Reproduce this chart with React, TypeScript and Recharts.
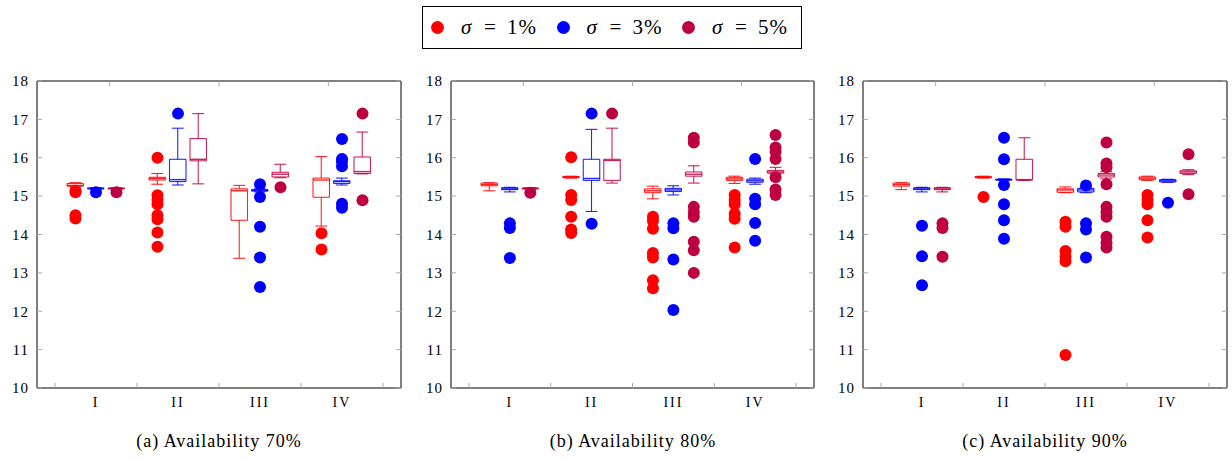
import React from 'react';
import { ComposedChart, Bar, Scatter, XAxis, YAxis } from 'recharts';

const cats = ['I', 'II', 'III', 'IV'];
const yTicks = [10, 11, 12, 13, 14, 15, 16, 17, 18];
const xTicks = [0.5, 1.5, 2.5, 3.5, 4.5];
const sigmas = ['1%', '3%', '5%'];
const colors = ['#ff0000', '#0000ff', '#bf0040'];
const titles = ['(a) Availability 70%', '(b) Availability 80%', '(c) Availability 90%'];

// box stats per category: [lower whisker, Q1, median, Q3, upper whisker]
const boxA1 = [[15.24, 15.26, 15.28, 15.33, 15.35], [15.31, 15.42, 15.46, 15.49, 15.59], [13.38, 14.37, 15.14, 15.19, 15.28], [14.22, 14.97, 15.42, 15.47, 16.03]];
const boxA3 = [[15.18, 15.19, 15.2, 15.21, 15.22], [15.29, 15.38, 15.43, 15.96, 16.77], [15.11, 15.13, 15.15, 15.17, 15.19], [15.29, 15.33, 15.38, 15.4, 15.47]];
const boxA5 = [[15.18, 15.19, 15.2, 15.21, 15.22], [15.32, 15.92, 15.96, 16.5, 17.15], [15.48, 15.5, 15.57, 15.62, 15.83], [15.58, 15.59, 15.64, 16.02, 16.67]];
const outA1 = [[15.1, 15.14, 14.5, 14.42], [16.0, 15.02, 14.9, 14.79, 14.5, 14.4, 14.05, 13.68], [], [14.03, 13.61]];
const outA3 = [[15.1], [17.15], [15.31, 14.98, 14.2, 13.4, 12.63], [16.49, 15.97, 15.9, 15.78, 14.8, 14.7]];
const outA5 = [[15.1], [], [15.23], [17.15, 14.89]];

const boxB1 = [[15.14, 15.27, 15.3, 15.34, 15.35], [15.47, 15.48, 15.5, 15.51, 15.52], [14.93, 15.09, 15.14, 15.19, 15.26], [15.33, 15.41, 15.45, 15.49, 15.52]];
const boxB3 = [[15.11, 15.17, 15.19, 15.22, 15.23], [14.6, 15.41, 15.46, 15.96, 16.74], [15.03, 15.12, 15.16, 15.2, 15.27], [15.31, 15.36, 15.4, 15.44, 15.47]];
const boxB5 = [[15.18, 15.19, 15.2, 15.21, 15.22], [15.34, 15.41, 15.93, 15.96, 16.77], [15.34, 15.52, 15.57, 15.63, 15.79], [15.58, 15.6, 15.63, 15.67, 15.75]];
const outB1 = [[], [16.01, 15.03, 14.9, 14.46, 14.13, 14.04], [14.46, 14.35, 14.15, 13.52, 13.4, 12.81, 12.6], [15.03, 14.9, 14.79, 14.54, 14.41, 13.66]];
const outB3 = [[14.29, 14.17, 13.39], [17.15, 14.28], [14.29, 14.16, 13.35, 12.03], [15.97, 14.93, 14.79, 14.3, 13.84]];
const outB5 = [[15.09], [17.15], [16.52, 16.4, 14.72, 14.58, 14.46, 13.81, 13.59, 13.0], [16.59, 16.27, 16.15, 15.97, 15.49, 15.17, 15.03]];

const boxC1 = [[15.17, 15.26, 15.3, 15.34, 15.35], [15.47, 15.48, 15.49, 15.51, 15.52], [15.09, 15.1, 15.16, 15.19, 15.24], [15.41, 15.43, 15.47, 15.5, 15.52]];
const boxC3 = [[15.11, 15.17, 15.19, 15.22, 15.23], [15.41, 15.42, 15.43, 15.44, 15.45], [15.09, 15.11, 15.16, 15.2, 15.22], [15.36, 15.37, 15.4, 15.43, 15.44]];
const boxC5 = [[15.11, 15.17, 15.19, 15.22, 15.23], [15.41, 15.42, 15.43, 15.96, 16.52], [15.45, 15.5, 15.55, 15.59, 15.64], [15.56, 15.59, 15.63, 15.66, 15.69]];
const outC1 = [[], [14.98], [14.33, 14.2, 13.57, 13.42, 13.3, 10.86], [15.03, 14.9, 14.79, 14.37, 13.92]];
const outC3 = [[14.23, 13.43, 12.68], [16.52, 15.96, 15.29, 14.79, 14.37, 13.89], [15.28, 14.29, 14.13, 13.4], [14.83]];
const outC5 = [[14.29, 14.17, 13.42], [], [16.4, 15.85, 15.75, 15.31, 14.72, 14.58, 14.46, 13.94, 13.78, 13.66], [16.09, 15.05]];

const font = '"Liberation Serif", "Times New Roman", serif';
const tickGray = '#a8a8a8';
const parts = ['base', 'lw', 'lb', 'ub', 'uw'];

const buildRows = (boxes: number[][][]) =>
  cats.map((cat, i) => {
    const row: any = { cat };
    boxes.forEach((b, k) => {
      const [lo, q1, med, q3, hi] = b[i];
      row[`s${k}_base`] = lo;
      row[`s${k}_lw`] = q1 - lo;
      row[`s${k}_lb`] = med - q1;
      row[`s${k}_ub`] = q3 - med;
      row[`s${k}_uw`] = hi - q3;
    });
    return row;
  });

const buildOutliers = (outs: number[][], k: number) =>
  outs.flatMap((vals, i) => vals.map((v) => ({ x: i + 1 + (k - 1) * 0.25, y: v })));

const boxPart = (part: string, color: string) => (props: any) => {
  const { x, y, width, height } = props;
  if (part === 'base' || x == null || y == null) return <g />;
  const top = Math.min(y, y + height);
  const bot = Math.max(y, y + height);
  const cx = x + width / 2;
  const cap = width * 0.36;
  const s = { stroke: color, strokeWidth: 1.1, strokeOpacity: 0.85, fill: 'none' };
  if (part === 'lw' || part === 'uw') {
    const capY = part === 'lw' ? bot : top;
    return (
      <g>
        <line x1={cx} x2={cx} y1={top} y2={bot} {...s} />
        <line x1={cx - cap} x2={cx + cap} y1={capY} y2={capY} {...s} />
      </g>
    );
  }
  const edgeY = part === 'lb' ? bot : top;
  return (
    <g>
      <line x1={x} x2={x} y1={top} y2={bot} {...s} />
      <line x1={x + width} x2={x + width} y1={top} y2={bot} {...s} />
      <line x1={x} x2={x + width} y1={edgeY} y2={edgeY} {...s} />
      {part === 'lb' && <line x1={x} x2={x + width} y1={top} y2={top} {...s} strokeWidth={1.4} />}
    </g>
  );
};

const dot = (color: string) => (props: any) =>
  props.cx == null ? <g /> : <circle cx={props.cx} cy={props.cy} r={6} fill={color} />;

const noTick = () => <g />;

interface PanelProps {
  left: number;
  yWidth: number;
  boxes: number[][][];
  outs: number[][][];
  title: string;
}

const Panel: React.FC<PanelProps> = ({ left, yWidth, boxes, outs, title }) => {
  const rows = buildRows(boxes);
  const plotCenter = left + yWidth + 182;
  return (
    <>
      <div style={{ position: 'absolute', left, top: 60 }}>
        <ComposedChart
          width={410}
          height={358}
          data={rows}
          margin={{ top: 21, right: 9, bottom: 0, left: 0 }}
          barSize={16.5}
          barGap={4}
        >
          <XAxis
            xAxisId="cat"
            dataKey="cat"
            type="category"
            padding={{ left: 18, right: 18 }}
            height={30}
            axisLine={{ stroke: '#000' }}
            tickLine={false}
            tickSize={0}
            tickMargin={9}
            interval={0}
            tick={{ fill: '#000', fontSize: 14, fontFamily: font, letterSpacing: 2 }}
          />
          <XAxis
            xAxisId="xb"
            dataKey="x"
            type="number"
            domain={[0.5, 4.5]}
            allowDataOverflow
            ticks={xTicks}
            padding={{ left: 18, right: 18 }}
            orientation="bottom"
            mirror
            axisLine={false}
            tickLine={{ stroke: tickGray }}
            tickSize={5}
            tick={noTick}
          />
          <XAxis
            xAxisId="xt"
            type="number"
            domain={[0.5, 4.5]}
            allowDataOverflow
            ticks={xTicks}
            padding={{ left: 18, right: 18 }}
            orientation="top"
            mirror
            axisLine={{ stroke: '#000' }}
            tickLine={{ stroke: tickGray }}
            tickSize={5}
            tick={noTick}
          />
          <YAxis
            yAxisId="y"
            type="number"
            domain={[10, 18]}
            allowDataOverflow
            ticks={yTicks}
            interval={0}
            width={yWidth}
            axisLine={{ stroke: '#000' }}
            tickLine={false}
            tickSize={0}
            tickMargin={8}
            tick={{ fill: '#000', fontSize: 15, fontFamily: font, letterSpacing: 1 }}
          />
          <YAxis
            yAxisId="yl"
            type="number"
            domain={[10, 18]}
            allowDataOverflow
            ticks={yTicks}
            mirror
            axisLine={false}
            tickLine={{ stroke: tickGray }}
            tickSize={5}
            tick={noTick}
          />
          <YAxis
            yAxisId="yr"
            type="number"
            orientation="right"
            domain={[10, 18]}
            allowDataOverflow
            ticks={yTicks}
            mirror
            axisLine={{ stroke: '#000' }}
            tickLine={{ stroke: tickGray }}
            tickSize={5}
            tick={noTick}
          />
          {colors.map((c, k) =>
            parts.map((part) => (
              <Bar
                key={`${k}-${part}`}
                xAxisId="cat"
                yAxisId="y"
                dataKey={`s${k}_${part}`}
                stackId={`s${k}`}
                shape={boxPart(part, c)}
                isAnimationActive={false}
              />
            ))
          )}
          {colors.map((c, k) => (
            <Scatter
              key={`out-${k}`}
              xAxisId="xb"
              yAxisId="y"
              data={buildOutliers(outs[k], k)}
              dataKey="y"
              fill={c}
              shape={dot(c)}
              isAnimationActive={false}
            />
          ))}
        </ComposedChart>
      </div>
      <div
        style={{
          position: 'absolute',
          left: plotCenter - 150,
          width: 300,
          top: 431,
          textAlign: 'center',
          fontFamily: font,
          fontSize: 18,
          letterSpacing: 1,
          color: '#000',
        }}
      >
        {title}
      </div>
    </>
  );
};

const Legend: React.FC = () => (
  <div
    style={{
      position: 'absolute',
      left: 422,
      top: 6,
      width: 380,
      height: 43,
      border: '1px solid #000',
      boxSizing: 'border-box',
      fontFamily: font,
      fontSize: 21,
      lineHeight: '24px',
    }}
  >
    {colors.map((c, k) => (
      <React.Fragment key={k}>
        <div
          style={{
            position: 'absolute',
            left: 8 + k * 125.5,
            top: 14,
            width: 13,
            height: 13,
            borderRadius: '50%',
            background: c,
          }}
        />
        <i style={{ position: 'absolute', left: 38 + k * 125.5, top: 8 }}>σ</i>
        <span style={{ position: 'absolute', left: 61 + k * 125.5, top: 8 }}>=</span>
        <span style={{ position: 'absolute', left: 84 + k * 125.5, top: 8, whiteSpace: 'nowrap', letterSpacing: 1 }}>
          {sigmas[k]}
        </span>
      </React.Fragment>
    ))}
  </div>
);

export default function App() {
  return (
    <div style={{ position: 'absolute', left: 0, top: 0, width: 1232, height: 460, background: '#fff' }}>
      <Legend />
      <Panel left={0} yWidth={37} boxes={[boxA1, boxA3, boxA5]} outs={[outA1, outA3, outA5]} title={titles[0]} />
      <Panel left={413} yWidth={38} boxes={[boxB1, boxB3, boxB5]} outs={[outB1, outB3, outB5]} title={titles[1]} />
      <Panel left={826} yWidth={37} boxes={[boxC1, boxC3, boxC5]} outs={[outC1, outC3, outC5]} title={titles[2]} />
    </div>
  );
}
